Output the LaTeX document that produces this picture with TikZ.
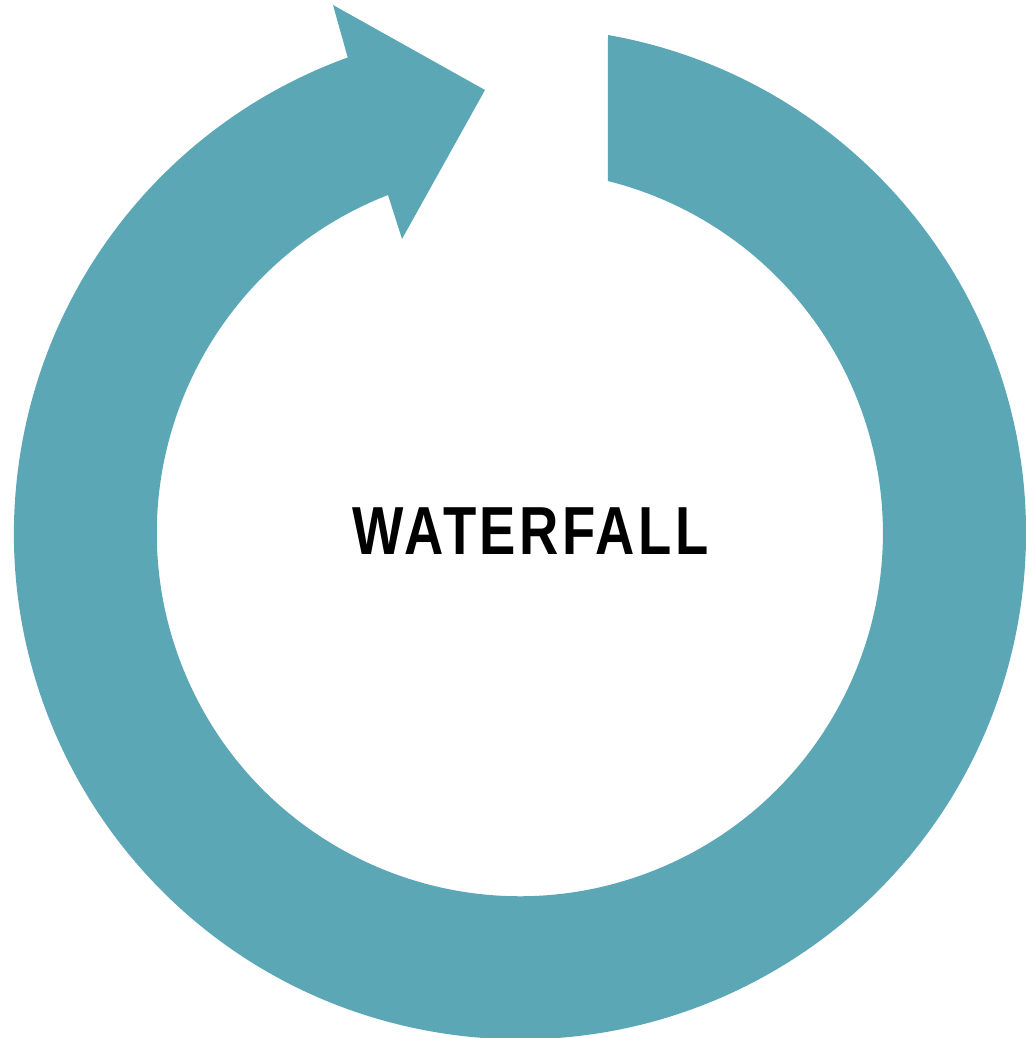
\documentclass[tikz,border=0pt]{standalone}
\usepackage{fontspec}
\usepackage{tikz}
\newfontfamily\wflabelfont[FakeStretch=0.8,LetterSpace=5]{Liberation Sans Bold}
\definecolor{ringteal}{HTML}{5BA7B5}

\begin{document}
\begin{tikzpicture}[
  x=0.5pt, y=0.5pt,
  ring/.style={fill=ringteal, draw=none},
  ttl/.style={font=\wflabelfont\fontsize{34}{40}\selectfont, text=black, inner sep=0pt, anchor=base},
]
\useasboundingbox (-520,-505) rectangle (505,533);

% cycle arrow: outer arc clockwise, arrow head, inner arc back
\fill[ring] (88,498) arc[start angle=79.98, end angle=-250.1, radius=506]
  -- (-187,528) -- (-35,443) -- (-118,294)
  -- (-132,338) arc[start angle=-248.7, end angle=75.97, radius=363] -- cycle;

\node[ttl] (title) at (10.5,-22) {WATERFALL};

\end{tikzpicture}
\end{document}
